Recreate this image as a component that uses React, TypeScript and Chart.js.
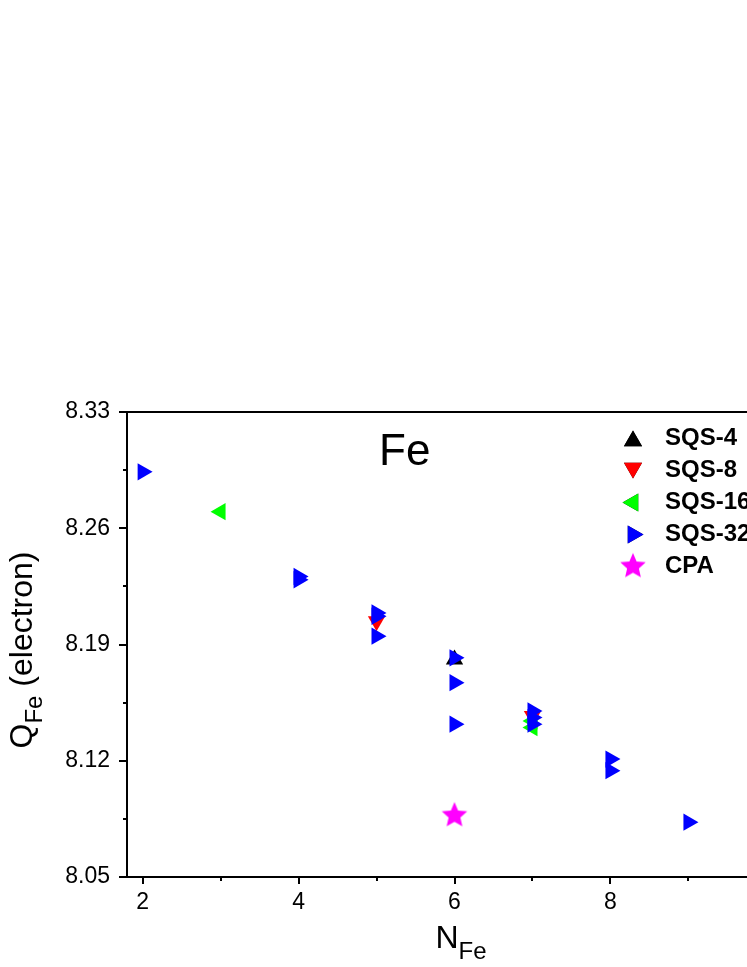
import React, { useEffect, useRef } from "react";
import { Chart, registerables } from "chart.js";
import { drawPoint } from "chart.js/helpers";

Chart.register(...registerables);

// ---- data ----
const xTicks = [2, 4, 6, 8, 10];
const xMinorTicks = [3, 5, 7, 9];
const yTicks = [8.05, 8.12, 8.19, 8.26, 8.33];
const yMinorTicks = [8.085, 8.155, 8.225, 8.295];

const sqs4X = [6];
const sqs4Y = [8.181];
const sqs8X = [5, 7];
const sqs8Y = [8.204, 8.147];
const sqs16X = [3, 7, 7];
const sqs16Y = [8.270, 8.144, 8.140];
const sqs32X = [2, 4, 4, 5, 5, 5, 6, 6, 6, 7, 7, 7, 8, 8, 9];
const sqs32Y = [8.294, 8.231, 8.229, 8.209, 8.207, 8.195, 8.182, 8.167, 8.142, 8.150, 8.146, 8.142, 8.121, 8.114, 8.083];
const cpaX = [6];
const cpaY = [8.087];

const seriesNames = ["SQS-4", "SQS-8", "SQS-16", "SQS-32", "CPA"];
const seriesColors = ["#000000", "#FF0000", "#00FF00", "#0000FF", "#FF00FF"];
const seriesRotations = [0, 180, 270, 90, 0];

const FONT = "'Liberation Sans', Arial, Helvetica, sans-serif";

function makeStar(R: number, color: string): HTMLCanvasElement {
  const size = 2 * Math.ceil(R) + 4;
  const c = document.createElement("canvas");
  c.width = size;
  c.height = size;
  const ctx = c.getContext("2d")!;
  const cx = size / 2;
  const cy = size / 2;
  const r = R * 0.46;
  ctx.beginPath();
  for (let i = 0; i < 10; i++) {
    const rad = i % 2 === 0 ? R : r;
    const a = -Math.PI / 2 + (i * Math.PI) / 5;
    ctx.lineTo(cx + rad * Math.cos(a), cy + rad * Math.sin(a));
  }
  ctx.closePath();
  ctx.fillStyle = color;
  ctx.fill();
  return c;
}

function pts(xs: number[], ys: number[]) {
  return xs.map((x, i) => ({ x, y: ys[i] }));
}

export default function App() {
  const ref = useRef<HTMLCanvasElement>(null);

  useEffect(() => {
    const star = makeStar(13.4, "#FF00FF");

    const decor = {
      id: "decor",
      afterDraw(chart: any) {
        const { ctx, chartArea: a, scales } = chart;
        const xs = scales.x;
        const ys = scales.y;
        ctx.save();
        // frame
        ctx.strokeStyle = "#000";
        ctx.lineWidth = 2;
        ctx.strokeRect(a.left, a.top, a.right - a.left, a.bottom - a.top);
        // ticks
        ctx.beginPath();
        for (const v of yTicks) {
          const p = Math.round(ys.getPixelForValue(v));
          ctx.moveTo(a.left - 8, p);
          ctx.lineTo(a.left, p);
        }
        for (const v of yMinorTicks) {
          const p = Math.round(ys.getPixelForValue(v));
          ctx.moveTo(a.left - 4, p);
          ctx.lineTo(a.left, p);
        }
        for (const v of xTicks) {
          const p = Math.round(xs.getPixelForValue(v));
          ctx.moveTo(p, a.bottom);
          ctx.lineTo(p, a.bottom + 7);
        }
        for (const v of xMinorTicks) {
          const p = Math.round(xs.getPixelForValue(v));
          ctx.moveTo(p, a.bottom);
          ctx.lineTo(p, a.bottom + 4);
        }
        ctx.stroke();

        ctx.fillStyle = "#000";
        ctx.textBaseline = "alphabetic";
        ctx.textAlign = "left";

        // annotation "Fe"
        ctx.font = `44px ${FONT}`;
        ctx.fillText("Fe", 379, 465);

        // x title N_Fe
        const mainF = `32px ${FONT}`;
        const subF = `24px ${FONT}`;
        ctx.font = mainF;
        const wN = ctx.measureText("N").width;
        ctx.font = subF;
        const wFe = ctx.measureText("Fe").width;
        const xStart = 461 - (wN + wFe) / 2;
        ctx.font = mainF;
        ctx.fillText("N", xStart, 948);
        ctx.font = subF;
        ctx.fillText("Fe", xStart + wN, 959);

        // y title Q_Fe (electron)
        ctx.save();
        ctx.translate(32, 650);
        ctx.rotate(-Math.PI / 2);
        ctx.font = mainF;
        const wQ = ctx.measureText("Q").width;
        const wRest = ctx.measureText(" (electron)").width;
        const total = wQ + wFe + wRest;
        let lx = -total / 2;
        ctx.fillText("Q", lx, 0);
        lx += wQ;
        ctx.font = subF;
        ctx.fillText("Fe", lx, 10);
        lx += wFe;
        ctx.font = mainF;
        ctx.fillText(" (electron)", lx, 0);
        ctx.restore();

        // legend
        ctx.font = `bold 24px ${FONT}`;
        ctx.textBaseline = "middle";
        for (let i = 0; i < seriesNames.length; i++) {
          const cy = 437.5 + 32 * i;
          if (seriesNames[i] === "CPA") {
            ctx.drawImage(star, 633 - star.width / 2, cy + 1 - star.height / 2);
          } else {
            const rot = seriesRotations[i];
            const dy = rot === 0 ? 2.5 : rot === 180 ? -2.5 : 0;
            drawPoint(ctx, {
              pointStyle: "triangle",
              radius: 10.5,
              rotation: rot,
              borderWidth: 0,
            } as any, 633, cy + 1 + dy);
            ctx.fillStyle = seriesColors[i];
            ctx.fill();
          }
          ctx.fillStyle = "#000";
          ctx.fillText(seriesNames[i], 665, cy + 1);
        }
        ctx.restore();
      },
    };

    const triDataset = (i: number, xs: number[], ys: number[], order: number) => ({
      label: seriesNames[i],
      data: pts(xs, ys),
      pointStyle: "triangle",
      pointRotation: seriesRotations[i],
      pointRadius: 10,
      pointBorderWidth: 0,
      backgroundColor: seriesColors[i],
      borderColor: seriesColors[i],
      showLine: false,
      order,
    });

    const chart = new Chart(ref.current!, {
      type: "scatter",
      data: {
        datasets: [
          triDataset(0, sqs4X, sqs4Y, 3),
          triDataset(1, sqs8X, sqs8Y, 1),
          triDataset(2, sqs16X, sqs16Y, 2),
          triDataset(3, sqs32X, sqs32Y, 0),
          {
            label: seriesNames[4],
            data: pts(cpaX, cpaY),
            pointStyle: star as any,
            pointRadius: 13,
            backgroundColor: seriesColors[4],
            borderColor: seriesColors[4],
            showLine: false,
            order: 4,
          },
        ] as any,
      },
      options: {
        responsive: false,
        animation: false,
        devicePixelRatio: 1,
        layout: { padding: { top: 412, right: 18, left: 0, bottom: 0 } },
        plugins: { legend: { display: false }, tooltip: { enabled: false } },
        events: [],
        scales: {
          x: {
            type: "linear",
            min: 1.8,
            max: 10.2,
            afterBuildTicks: (s: any) => {
              s.ticks = xTicks.map((v) => ({ value: v }));
            },
            afterFit: (s: any) => {
              s.height = 90;
            },
            ticks: {
              color: "#000",
              font: { family: FONT, size: 23 },
              padding: 12,
              maxRotation: 0,
              autoSkip: false,
              callback: (v: any) => String(v),
            },
            grid: { display: false, drawTicks: false },
            border: { display: false },
          },
          y: {
            type: "linear",
            min: 8.05,
            max: 8.33,
            afterBuildTicks: (s: any) => {
              s.ticks = yTicks.map((v) => ({ value: v }));
            },
            afterFit: (s: any) => {
              s.width = 127;
            },
            ticks: {
              color: "#000",
              font: { family: FONT, size: 23 },
              padding: 17,
              autoSkip: false,
              callback: (v: any) => Number(v).toFixed(2),
            },
            grid: { display: false, drawTicks: false },
            border: { display: false },
          },
        },
      } as any,
      plugins: [decor],
    });
    return () => chart.destroy();
  }, []);

  return (
    <div
      style={{
        position: "absolute",
        left: 0,
        top: 0,
        width: 747,
        height: 967,
        overflow: "hidden",
        background: "#fff",
      }}
    >
      <canvas
        ref={ref}
        width={800}
        height={967}
        style={{ width: 800, height: 967, display: "block" }}
      />
    </div>
  );
}
